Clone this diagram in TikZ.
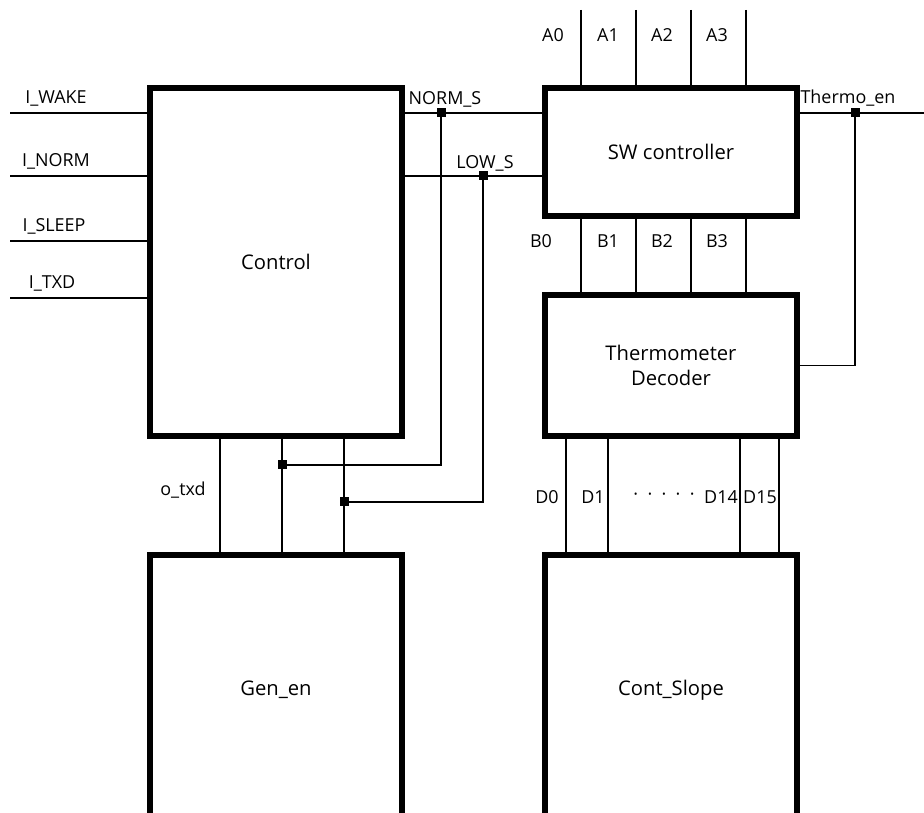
\documentclass[tikz,border=0pt]{standalone}
\usepackage{fontspec}
\setmainfont{Open Sans}
\usetikzlibrary{positioning}

\begin{document}
\begin{tikzpicture}[
    x=0.02cm, y=-0.02cm,
    block/.style={draw, line width=3pt, minimum width=5.04cm, font=\fontsize{11.5}{14.5}\selectfont, align=center},
    wire/.style={line width=0.75pt},
    sig/.style={font=\fontsize{10.2}{12}\selectfont, inner sep=1pt},
    junc/.style={fill, inner sep=0pt, minimum size=0.18cm}
]
\useasboundingbox (0,0) rectangle (924,813);
\clip (0,0) rectangle (924,813);

\node[block, minimum height=6.96cm] (ctrl) at (276,262) {Control};
\node[block, minimum height=2.56cm] (swc) at (671,152) {SW controller};
\node[block, minimum height=2.82cm] (tdec) at (671,365.5) {Thermometer\\Decoder};
\node[block, minimum height=5.4cm] (gen) at (276,690) {Gen\_en};
\node[block, minimum height=5.4cm] (cslope) at (671,690) {Cont\_Slope};

\node[junc] (jnorm) at (441,113) {};
\node[junc] (jlow) at (483,176) {};
\node[junc] (jnormb) at (282,465) {};
\node[junc] (jlowb) at (344,502) {};
\node[junc] (jtherm) at (855,113) {};

\foreach \nm/\txt/\y/\lx in {iwake/I\_WAKE/113/56, inorm/I\_NORM/176/56, isleep/I\_SLEEP/241/54, itxd/I\_TXD/298/52} {
    \coordinate (\nm) at (10,\y);
    \draw[wire] (\nm) -- (\nm -| ctrl.west);
    \node[sig] (\nm-lbl) at (\lx,\y-15) {\txt};
}

\draw[wire] (ctrl.east |- jnorm) -- (swc.west |- jnorm);
\draw[wire] (jnorm.center) |- (jnormb.center);
\node[sig] (normlbl) at (445,99) {NORM\_S};
\draw[wire] (ctrl.east |- jlow) -- (swc.west |- jlow);
\draw[wire] (jlow.center) |- (jlowb.center);
\node[sig] (lowlbl) at (485,163) {LOW\_S};

\coordinate (thout) at (924,113);
\draw[wire] (swc.east |- jtherm) -- (thout);
\draw[wire] (jtherm.center) |- (tdec.east);
\node[sig] (thermlbl) at (848,98) {Thermo\_en};

\draw[wire] (ctrl.south -| 220,0) -- (gen.north -| 220,0);
\draw[wire] (ctrl.south -| jnormb) -- (gen.north -| jnormb);
\draw[wire] (ctrl.south -| jlowb) -- (gen.north -| jlowb);
\node[sig] (txdlbl) at (183,490) {o\_txd};

\foreach \i/\x/\lx in {0/581/553, 1/636/608, 2/691/662, 3/746/717} {
    \coordinate (a\i) at (\x,10);
    \draw[wire] (a\i) -- (a\i |- swc.north);
    \node[sig] (a\i-lbl) at (\lx,35) {A\i};
}
\foreach \i/\x/\lx in {0/581/541, 1/636/608, 2/691/662, 3/746/717} {
    \draw[wire] (swc.south -| \x,0) -- (tdec.north -| \x,0);
    \node[sig] (b\i-lbl) at (\lx,241) {B\i};
}
\foreach \i/\x/\lx in {0/566/547, 1/608/593, 14/740/721, 15/779/760} {
    \draw[wire] (tdec.south -| \x,0) -- (cslope.north -| \x,0);
    \node[sig] (d\i-lbl) at (\lx,497) {D\i};
}
\node[sig] (ddots) at (664,497) {·\ \ ·\ \ ·\ \ ·\ \ ·};

\end{tikzpicture}
\end{document}
